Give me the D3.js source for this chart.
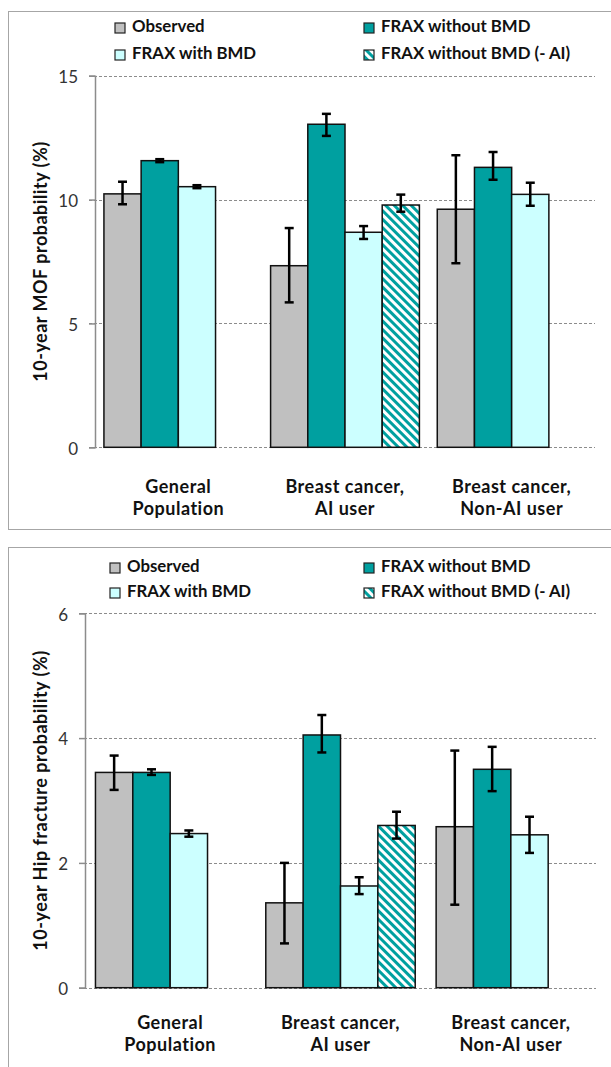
<!DOCTYPE html>
<html><head><meta charset="utf-8">
<script src="https://cdn.jsdelivr.net/npm/d3@7/dist/d3.min.js"></script>
<style>
html,body{margin:0;padding:0;background:#fff;}
svg{display:block;font-family:Lato,"Open Sans",sans-serif;}
</style></head>
<body>
<svg id="chart" width="611" height="1067"></svg>
<script>
// ---------- data ----------
const categories = ["General Population", "Breast cancer, AI user", "Breast cancer, Non-AI user"];
const categoryLines = [["General", "Population"], ["Breast cancer,", "AI user"], ["Breast cancer,", "Non-AI user"]];
const seriesNames = ["Observed", "FRAX without BMD", "FRAX with BMD", "FRAX without BMD (- AI)"];
const legendOrder = ["Observed", "FRAX without BMD", "FRAX with BMD", "FRAX without BMD (- AI)"];

// Top panel: 10-year MOF probability (%)
const mofObserved      = [10.23, 7.33, 9.61];
const mofObservedLow   = [9.81, 5.85, 7.43];
const mofObservedHigh  = [10.72, 8.85, 11.79];
const mofNoBMD         = [11.57, 13.04, 11.30];
const mofNoBMDLow      = [11.51, 12.57, 10.80];
const mofNoBMDHigh     = [11.63, 13.46, 11.92];
const mofWithBMD       = [10.52, 8.68, 10.21];
const mofWithBMDLow    = [10.46, 8.41, 9.75];
const mofWithBMDHigh   = [10.58, 8.93, 10.68];
const mofNoBMDnoAI     = [null, 9.78, null];
const mofNoBMDnoAILow  = [null, 9.51, null];
const mofNoBMDnoAIHigh = [null, 10.20, null];
const mofTicks = [0, 5, 10, 15];

// Bottom panel: 10-year Hip fracture probability (%)
const hipObserved      = [3.45, 1.36, 2.58];
const hipObservedLow   = [3.17, 0.71, 1.33];
const hipObservedHigh  = [3.72, 2.00, 3.80];
const hipNoBMD         = [3.45, 4.05, 3.50];
const hipNoBMDLow      = [3.41, 3.77, 3.15];
const hipNoBMDHigh     = [3.50, 4.37, 3.86];
const hipWithBMD       = [2.47, 1.63, 2.45];
const hipWithBMDLow    = [2.42, 1.50, 2.16];
const hipWithBMDHigh   = [2.52, 1.77, 2.74];
const hipNoBMDnoAI     = [null, 2.60, null];
const hipNoBMDnoAILow  = [null, 2.39, null];
const hipNoBMDnoAIHigh = [null, 2.82, null];
const hipTicks = [0, 2, 4, 6];

// ---------- styling ----------
const fills = {
  "Observed": "#c0c0c0",
  "FRAX without BMD": "#00a0a0",
  "FRAX with BMD": "#ccffff",
  "FRAX without BMD (- AI)": "url(#hatch)"
};
const TEAL = "#00a0a0";

const svg = d3.select("#chart");
const defs = svg.append("defs");
const pat = defs.append("pattern").attr("id", "hatch")
  .attr("patternUnits", "userSpaceOnUse").attr("width", 6).attr("height", 6)
  .attr("patternTransform", "rotate(-45)");
pat.append("rect").attr("width", 6).attr("height", 6).attr("fill", "#fff");
pat.append("rect").attr("width", 3).attr("height", 6).attr("fill", TEAL);

function buildRows(vals) {
  const rows = [];
  categories.forEach((c, i) => {
    seriesNames.forEach((s, j) => {
      const v = vals[j][0][i];
      if (v !== null) rows.push({cat: c, series: s, value: v, low: vals[j][1][i], high: vals[j][2][i]});
    });
  });
  return rows;
}

function drawPanel(cfg) {
  const g = svg.append("g");
  g.append("rect").attr("x", cfg.box[0] + 0.5).attr("y", cfg.box[1] + 0.5)
    .attr("width", cfg.box[2]).attr("height", cfg.box[3])
    .attr("fill", "none").attr("stroke", "#a6a6a6").attr("stroke-width", 1);

  const y = d3.scaleLinear().domain(cfg.domain).range([cfg.y0, cfg.y1]);
  const x = d3.scaleBand().domain(categories).range([cfg.x0, cfg.x1]).paddingInner(0).paddingOuter(0);
  const xs = d3.scaleBand().domain(seriesNames).range([0, x.bandwidth()]).paddingInner(0).paddingOuter(cfg.outerPad);

  // gridlines
  g.append("g").selectAll("line").data(cfg.ticks).join("line")
    .attr("x1", cfg.x0 - 6).attr("x2", cfg.x1)
    .attr("y1", d => Math.round(y(d)) + 0.5).attr("y2", d => Math.round(y(d)) + 0.5)
    .attr("stroke", "#8c8c8c").attr("stroke-width", 1).attr("stroke-dasharray", "3,2");

  // y axis
  const axis = d3.axisLeft(y).tickValues(cfg.ticks).tickSize(6).tickPadding(11).tickFormat(d3.format("d"));
  const ag = g.append("g").attr("transform", `translate(${cfg.x0},0)`).call(axis);
  ag.select(".domain").attr("stroke", "#8c8c8c").attr("stroke-width", 1.5);
  ag.selectAll(".tick line").attr("stroke", "#8c8c8c").attr("stroke-width", 1.5);
  ag.selectAll(".tick text").attr("font-size", 17).attr("fill", "#333")
    .attr("font-family", "Lato, sans-serif").attr("dy", "0.4em");

  // axis title
  g.append("text")
    .attr("transform", `translate(${cfg.titleX},${(cfg.y0 + cfg.y1) / 2}) rotate(-90)`)
    .attr("text-anchor", "middle").attr("dominant-baseline", "middle")
    .attr("font-size", 18).attr("letter-spacing", 0.5).attr("font-weight", "bold").attr("fill", "#111")
    .text(cfg.title);

  const rows = buildRows(cfg.vals);
  g.append("g").selectAll("rect").data(rows).join("rect")
    .attr("x", d => x(d.cat) + xs(d.series))
    .attr("y", d => y(d.value))
    .attr("width", xs.bandwidth())
    .attr("height", d => y(0) - y(d.value))
    .attr("fill", d => fills[d.series])
    .attr("stroke", "#111").attr("stroke-width", 1.5);

  // error bars
  const eg = g.append("g").attr("stroke", "#000").attr("stroke-width", 2.5);
  rows.forEach(d => {
    const cx = x(d.cat) + xs(d.series) + xs.bandwidth() / 2;
    eg.append("line").attr("x1", cx).attr("x2", cx).attr("y1", y(d.low)).attr("y2", y(d.high));
    eg.append("line").attr("x1", cx - 4.5).attr("x2", cx + 4.5).attr("y1", y(d.low)).attr("y2", y(d.low));
    eg.append("line").attr("x1", cx - 4.5).attr("x2", cx + 4.5).attr("y1", y(d.high)).attr("y2", y(d.high));
  });

  // category labels
  categories.forEach((c, i) => {
    const cxl = x(c) + x.bandwidth() / 2;
    const t = g.append("text").attr("x", cxl).attr("y", cfg.labelY)
      .attr("text-anchor", "middle").attr("font-size", 18).attr("letter-spacing", 0.5)
      .attr("font-weight", "bold").attr("fill", "#111");
    categoryLines[i].forEach((ln, k) => {
      t.append("tspan").attr("x", cxl).attr("dy", k === 0 ? 0 : 21.5).text(ln);
    });
  });

  // legend
  const lg = g.append("g");
  legendOrder.forEach((s, i) => {
    const col = i % 2, row = Math.floor(i / 2);
    const lx = cfg.legendX[col], ly = cfg.legendY[row];
    lg.append("rect").attr("x", lx).attr("y", ly - 5).attr("width", 10).attr("height", 10)
      .attr("fill", fills[s]).attr("stroke", "#222").attr("stroke-width", 1.2);
    lg.append("text").attr("x", lx + 17).attr("y", ly).attr("dominant-baseline", "middle")
      .attr("font-size", 16.8).attr("font-weight", "bold").attr("fill", "#111").text(s);
  });
}

drawPanel({
  box: [8, 11, 620, 518],
  domain: [0, 15], ticks: mofTicks,
  x0: 95, x1: 595, y0: 447.3, y1: 75.7, outerPad: 0.24,
  title: "10-year MOF probability (%)", titleX: 42,
  labelY: 493,
  legendX: [115, 364], legendY: [28, 55],
  vals: [[mofObserved, mofObservedLow, mofObservedHigh],
         [mofNoBMD, mofNoBMDLow, mofNoBMDHigh],
         [mofWithBMD, mofWithBMDLow, mofWithBMDHigh],
         [mofNoBMDnoAI, mofNoBMDnoAILow, mofNoBMDnoAIHigh]]
});

drawPanel({
  box: [8, 547, 620, 560],
  domain: [0, 6], ticks: hipTicks,
  x0: 85, x1: 596, y0: 987.7, y1: 613.3, outerPad: 0.28,
  title: "10-year Hip fracture probability (%)", titleX: 42,
  labelY: 1029,
  legendX: [110, 364], legendY: [568, 593],
  vals: [[hipObserved, hipObservedLow, hipObservedHigh],
         [hipNoBMD, hipNoBMDLow, hipNoBMDHigh],
         [hipWithBMD, hipWithBMDLow, hipWithBMDHigh],
         [hipNoBMDnoAI, hipNoBMDnoAILow, hipNoBMDnoAIHigh]]
});
</script>
</body></html>
